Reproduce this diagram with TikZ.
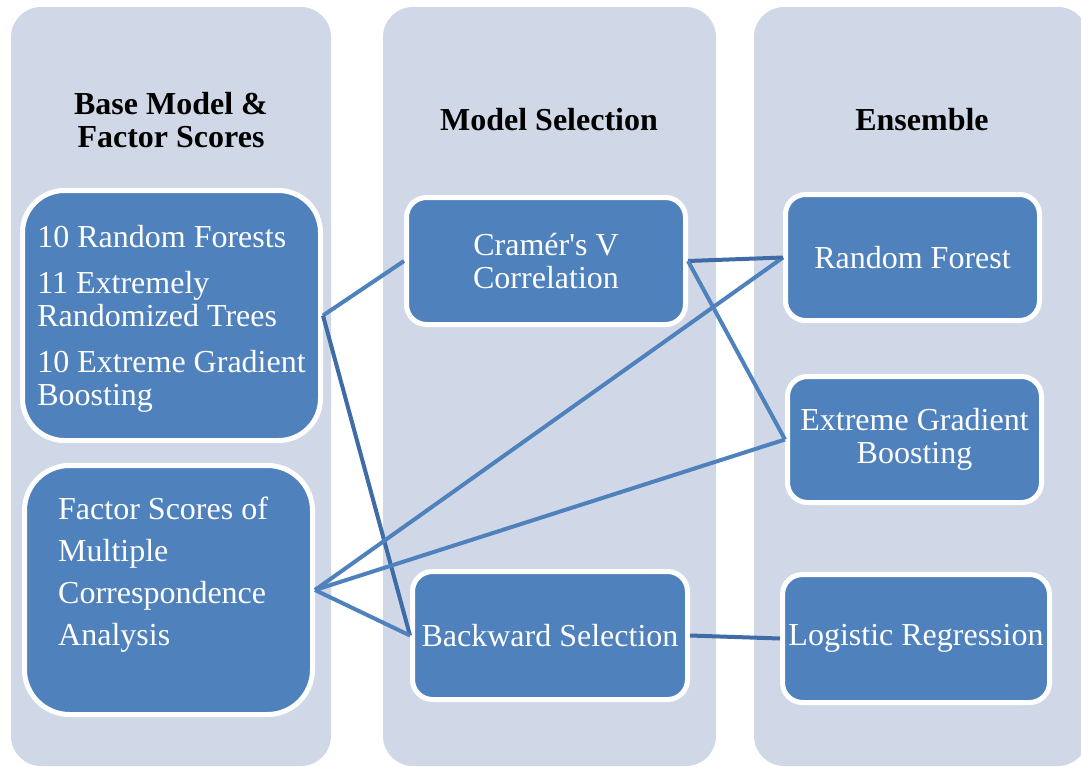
\documentclass[tikz,border=0pt]{standalone}
\usepackage{fontspec}
\setmainfont{Liberation Serif}
\definecolor{colbg}{HTML}{D0D8E8}
\definecolor{boxblue}{HTML}{4F81BD}
\definecolor{linkblue}{HTML}{4F81BD}
\definecolor{linkdark}{HTML}{3F6CA6}
\begin{document}
\begin{tikzpicture}[x=1pt,y=-1pt,
  col/.style={fill=colbg, rounded corners=30pt},
  head/.style={font=\fontsize{32}{33}\selectfont\bfseries, align=center, inner sep=0pt},
  box/.style={draw=white, line width=5pt, fill=boxblue, text=white,
    font=\fontsize{32}{33}\selectfont, align=center, rounded corners=20pt, inner sep=0pt},
  bigbox/.style={box, rounded corners=42pt},
  link/.style={draw=linkblue, line width=4pt},
  linkd/.style={draw=linkdark, line width=4pt}]
\useasboundingbox (0,0) rectangle (1081,766);
% columns
\path[col] (11,7) rectangle (331,766);
\path[col] (383,7) rectangle (716,766);
\path[col] (754,7) rectangle (1088,766);
% headings
\node[head] (h1) at (171,120) {Base Model \&\\Factor Scores};
\node[head] (h2) at (549,120) {Model Selection};
\node[head] (h3) at (922,120) {Ensemble};
% boxes
\node[bigbox, align=left, minimum width=298pt, minimum height=250pt] (base) at (171.5,315.5)
  {\rule{0pt}{28pt}10 Random Forests\\[13pt]11 Extremely\\Randomized Trees\\[13pt]10 Extreme Gradient\\Boosting};
\node[bigbox, rounded corners=45pt, minimum width=288pt, minimum height=249pt] (mca) at (168.5,590) {};
\node[anchor=north west, inner sep=0pt, text=white, font=\fontsize{32}{42}\selectfont, align=left]
  (mcatext) at (58,497) {Factor Scores of\\Multiple\\Correspondence\\Analysis};
\node[box, minimum width=279pt, minimum height=127pt] (cv) at (546,261) {Cramér\textquotesingle s V\\Correlation};
\node[box, minimum width=275pt, minimum height=128pt] (bs) at (550,635.5) {Backward Selection};
\node[box, minimum width=254pt, minimum height=126pt] (rf) at (912.5,257.5) {Random Forest};
\node[box, minimum width=254pt, minimum height=126pt] (xgb) at (914.5,439.5) {Extreme Gradient\\Boosting};
\node[box, minimum width=267pt, minimum height=128pt] (lr) at (916,638.5) {Logistic Regression};
% connectors
\draw[link] (base.east) -- (cv.west);
\draw[linkd] (base.east) -- (bs.west);
\draw[link] (mca.east) -- (rf.west);
\draw[link] (mca.east) -- (xgb.west);
\draw[link] (mca.east) -- (bs.west);
\draw[linkd] (cv.east) -- (rf.west);
\draw[link] (cv.east) -- (xgb.west);
\draw[linkd] (bs.east) -- (lr.west);
\end{tikzpicture}
\end{document}
